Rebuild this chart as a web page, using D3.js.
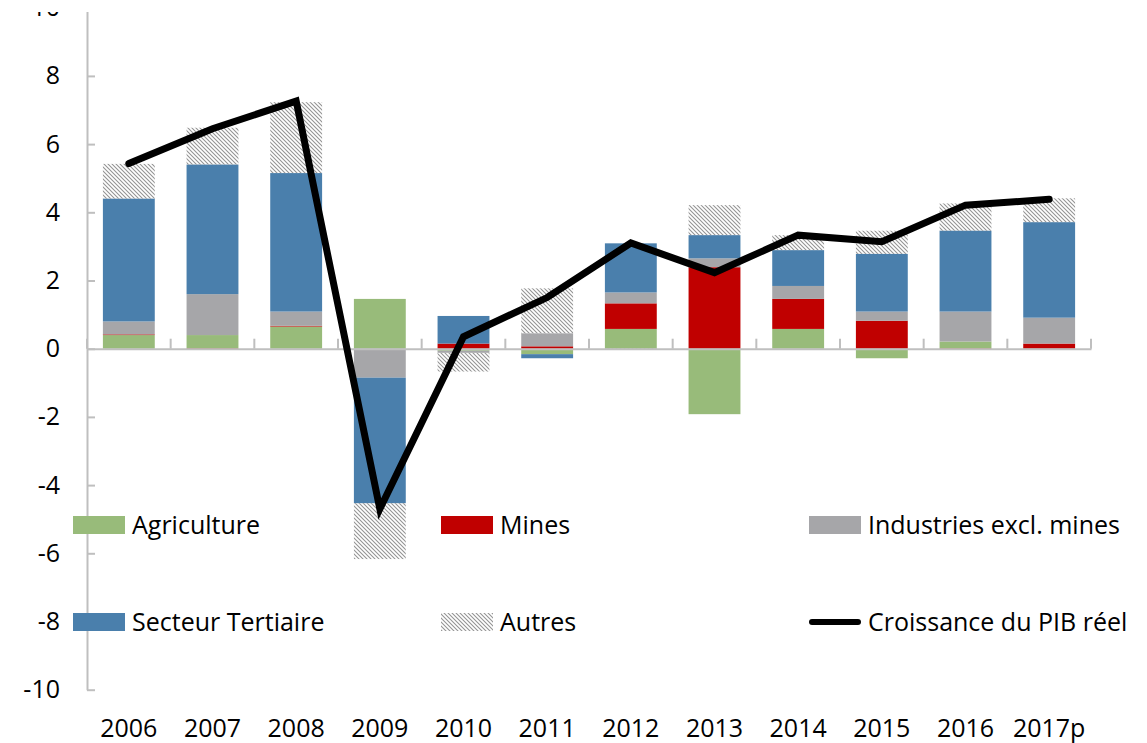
<!DOCTYPE html>
<html lang="fr">
<head>
<meta charset="UTF-8">
<title>Contributions à la croissance</title>
<script src="https://cdnjs.cloudflare.com/ajax/libs/d3/7.8.5/d3.min.js"></script>
<style>
  body { margin: 0; background: #fff; }
  svg text { font-family: "Open Sans", "Noto Sans", sans-serif; fill: #000; }
</style>
</head>
<body>
<svg id="chart"></svg>
<script>
var years = ["2006","2007","2008","2009","2010","2011","2012","2013","2014","2015","2016","2017p"]

var agriculture = [0.40, 0.40, 0.65, 1.46, -0.06, -0.16, 0.58, -1.92, 0.58, -0.28, 0.21, 0.00]
var mines       = [0.02, -0.03, 0.02, 0.00, 0.15, 0.07, 0.75, 2.39, 0.88, 0.82, -0.02, 0.15]
var industries  = [0.38, 1.20, 0.42, -0.85, -0.06, 0.38, 0.32, 0.26, 0.38, 0.27, 0.88, 0.76]
var tertiaire   = [3.60, 3.80, 4.06, -3.68, 0.81, -0.12, 1.44, 0.68, 1.05, 1.69, 2.37, 2.80]
var autres      = [1.02, 1.08, 2.08, -1.64, -0.55, 1.32, -0.03, 0.88, 0.44, 0.68, 0.80, 0.70]
var pib         = [5.43, 6.45, 7.26, -4.70, 0.35, 1.50, 3.10, 2.23, 3.33, 3.14, 4.21, 4.38]

var yTicks = [-10, -8, -6, -4, -2, 0, 2, 4, 6, 8, 10]

var series = [
  {key: "agri", label: "Agriculture", values: agriculture, fill: "#98bb7a"},
  {key: "mines", label: "Mines", values: mines, fill: "#c00000"},
  {key: "ind", label: "Industries excl. mines", values: industries, fill: "#a6a6a9"},
  {key: "tert", label: "Secteur Tertiaire", values: tertiaire, fill: "#4a7fac"},
  {key: "autres", label: "Autres", values: autres, fill: "url(#hatch)"}
]

var W = 1147, H = 743

var svg = d3.select("#chart")
  .attr("width", W)
  .attr("height", H)

// hatch pattern for "Autres"
var defs = svg.append("defs")
defs.append("pattern")
  .attr("id", "hatch")
  .attr("patternUnits", "userSpaceOnUse")
  .attr("width", 4)
  .attr("height", 4)
  .append("path")
  .attr("d", "M-1,3 l2,2 M0,0 l4,4 M3,-1 l2,2")
  .attr("stroke", "#949494")
  .attr("stroke-width", 1.1)

var x = d3.scaleBand()
  .domain(years)
  .range([87, 1091])
  .paddingInner(0.38)
  .paddingOuter(0.19)

var y = d3.scaleLinear()
  .domain([-10, 10])
  .range([689.7, 7.7])

// stacked data
var table = years.map(function(yr, i) {
  var row = {year: yr}
  series.forEach(function(s) { row[s.key] = s.values[i] })
  return row
})

var stack = d3.stack()
  .keys(series.map(function(s) { return s.key }))
  .offset(d3.stackOffsetDiverging)

var stacked = stack(table)

var layers = svg.append("g").selectAll("g")
  .data(stacked).enter()
  .append("g")
  .attr("fill", function(d, i) { return series[i].fill })

layers.selectAll("rect")
  .data(function(d) { return d }).enter()
  .append("rect")
  .attr("x", function(d) { return x(d.data.year) })
  .attr("width", x.bandwidth())
  .attr("y", function(d) { return y(Math.max(d[0], d[1])) })
  .attr("height", function(d) { return Math.abs(y(d[0]) - y(d[1])) })

// y axis
var yAxis = svg.append("g")
  .attr("transform", "translate(" + x.range()[0] + ",0)")
  .call(d3.axisLeft(y).tickValues(yTicks).tickSizeInner(-8).tickSizeOuter(0).tickPadding(27)
    .tickFormat(function(d) { return String(d) }))
yAxis.select(".domain").attr("stroke", "#bfbfbf").attr("stroke-width", 2)
yAxis.selectAll(".tick line").attr("stroke", "#bfbfbf").attr("stroke-width", 2)
yAxis.selectAll(".tick text")
  .style("font-size", "25px")
  .attr("font-family", null)

// x axis at zero
var xAxis = svg.append("g")
  .attr("transform", "translate(0," + y(0) + ")")
  .call(d3.axisBottom(x).tickSize(0).tickFormat(""))
xAxis.select(".domain").attr("stroke", "#bfbfbf").attr("stroke-width", 2)

var bounds = d3.range(years.length + 1).map(function(i) { return x.range()[0] + i * x.step() })
xAxis.selectAll(".bound")
  .data(bounds).enter()
  .append("line")
  .attr("x1", function(d) { return d })
  .attr("x2", function(d) { return d })
  .attr("y1", 0)
  .attr("y2", -10)
  .attr("stroke", "#bfbfbf")
  .attr("stroke-width", 2)

svg.append("g").selectAll("text")
  .data(years).enter()
  .append("text")
  .attr("x", function(d) { return x(d) + x.bandwidth() / 2 })
  .attr("y", 737)
  .attr("text-anchor", "middle")
  .style("font-size", "25px")
  .text(function(d) { return d })

// growth line
var line = d3.line()
  .x(function(d, i) { return x(years[i]) + x.bandwidth() / 2 })
  .y(function(d) { return y(d) })

svg.append("path")
  .datum(pib)
  .attr("d", line)
  .attr("fill", "none")
  .attr("stroke", "#000")
  .attr("stroke-width", 7)
  .attr("stroke-linejoin", "miter")
  .attr("stroke-linecap", "round")

// the source image is cropped at the top edge
svg.append("rect")
  .attr("x", 0).attr("y", 0)
  .attr("width", W).attr("height", 12)
  .attr("fill", "#fff")

// legend
var legendItems = [
  {label: "Agriculture", fill: series[0].fill, col: 0, row: 0},
  {label: "Mines", fill: series[1].fill, col: 1, row: 0},
  {label: "Industries excl. mines", fill: series[2].fill, col: 2, row: 0},
  {label: "Secteur Tertiaire", fill: series[3].fill, col: 0, row: 1},
  {label: "Autres", fill: series[4].fill, col: 1, row: 1},
  {label: "Croissance du PIB réel", line: true, col: 2, row: 1}
]
var colX = [73, 441, 809], rowY = [525, 622]

var leg = svg.append("g").selectAll("g")
  .data(legendItems).enter()
  .append("g")
  .attr("transform", function(d) { return "translate(" + colX[d.col] + "," + rowY[d.row] + ")" })

leg.filter(function(d) { return !d.line })
  .append("rect")
  .attr("x", 0)
  .attr("y", -9)
  .attr("width", 52)
  .attr("height", 18)
  .attr("fill", function(d) { return d.fill })

leg.filter(function(d) { return d.line })
  .append("line")
  .attr("x1", 3).attr("x2", 49)
  .attr("y1", 0).attr("y2", 0)
  .attr("stroke", "#000")
  .attr("stroke-width", 6)
  .attr("stroke-linecap", "round")

leg.append("text")
  .attr("x", 59)
  .attr("y", 0)
  .attr("dy", "0.35em")
  .style("font-size", "25px")
  .text(function(d) { return d.label })
</script>
</body>
</html>
